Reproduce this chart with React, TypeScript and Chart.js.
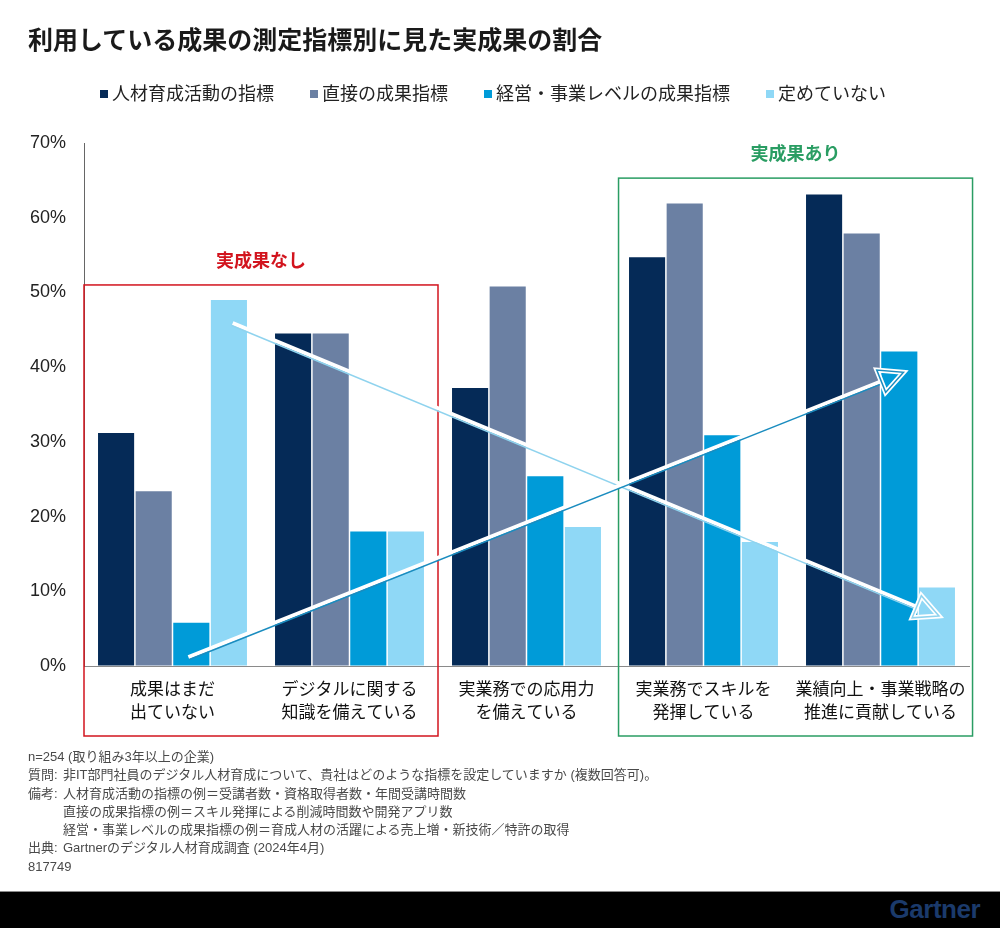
import React, { useEffect, useRef } from "react";
import { Chart, registerables } from "chart.js";

Chart.register(...registerables);

const FONT = "'Liberation Sans', 'Noto Sans CJK JP', sans-serif";

// ---- Data ----
const chartTitle = "利用している成果の測定指標別に見た実成果の割合";

const categories: string[][] = [
  ["成果はまだ", "出ていない"],
  ["デジタルに関する", "知識を備えている"],
  ["実業務での応用力", "を備えている"],
  ["実業務でスキルを", "発揮している"],
  ["業績向上・事業戦略の", "推進に貢献している"],
];

const seriesNames = [
  "人材育成活動の指標",
  "直接の成果指標",
  "経営・事業レベルの成果指標",
  "定めていない",
];
const seriesColors = ["#052a57", "#6b80a3", "#009bd8", "#8fd8f6"];

const talentActivity = [31.2, 44.5, 37.2, 54.7, 63.1];
const directOutcome = [23.4, 44.5, 50.8, 61.9, 57.9];
const businessLevel = [5.8, 18.0, 25.4, 30.9, 42.1];
const notDefined = [49.0, 18.0, 18.6, 16.6, 10.5];

const yMax = 70;
const yStep = 10;

// Highlight regions (category units and percent)
const regionLabels = ["実成果なし", "実成果あり"];
const regionColors = ["#d2141e", "#2a9d63"];
const regionFrom = [-0.5, 2.52];
const regionTo = [1.5, 4.52];
const regionTop = [51.0, 65.3];

// Trend arrows (category units, percent)
const arrowColors = ["#8fd3ee", "#1a8cbf"];
const arrowStart = [
  [0.34, 45.9],
  [0.09, 1.2],
];
const arrowEnd = [
  [4.33, 6.7],
  [4.13, 39.3],
];

const notePrefixes = ["", "質問:", "備考:", "", "", "出典:", ""];
const notes = [
  "n=254 (取り組み3年以上の企業)",
  "非IT部門社員のデジタル人材育成について、貴社はどのような指標を設定していますか (複数回答可)。",
  "人材育成活動の指標の例＝受講者数・資格取得者数・年間受講時間数",
  "直接の成果指標の例＝スキル発揮による削減時間数や開発アプリ数",
  "経営・事業レベルの成果指標の例＝育成人材の活躍による売上増・新技術／特許の取得",
  "Gartnerのデジタル人材育成調査 (2024年4月)",
  "817749",
];
const noteIndented = [false, false, false, true, true, false, false];

function drawArrow(
  ctx: CanvasRenderingContext2D,
  x1: number,
  y1: number,
  x2: number,
  y2: number,
  color: string
) {
  const dx = x2 - x1;
  const dy = y2 - y1;
  const len = Math.hypot(dx, dy);
  const ux = dx / len;
  const uy = dy / len;
  let nx = -uy;
  let ny = ux;
  if (ny < 0) {
    nx = -nx;
    ny = -ny;
  }
  const L = 24;
  const W = 12;
  const bx = x2 - ux * L;
  const by = y2 - uy * L;
  ctx.save();
  ctx.lineCap = "butt";
  ctx.strokeStyle = "#ffffff";
  ctx.lineWidth = 4;
  ctx.beginPath();
  ctx.moveTo(x1, y1);
  ctx.lineTo(bx, by);
  ctx.stroke();
  ctx.strokeStyle = color;
  ctx.lineWidth = 1.5;
  ctx.beginPath();
  ctx.moveTo(x1 + nx * 2.6, y1 + ny * 2.6);
  ctx.lineTo(bx + nx * 2.6, by + ny * 2.6);
  ctx.stroke();
  // hollow head
  ctx.lineJoin = "miter";
  ctx.beginPath();
  ctx.moveTo(x2, y2);
  ctx.lineTo(bx + nx * W, by + ny * W);
  ctx.lineTo(bx - nx * W, by - ny * W);
  ctx.closePath();
  ctx.strokeStyle = "#ffffff";
  ctx.lineWidth = 5;
  ctx.stroke();
  ctx.strokeStyle = color;
  ctx.lineWidth = 1.5;
  ctx.stroke();
  ctx.restore();
}

const overlayPlugin = {
  id: "overlay",
  afterDatasetsDraw(chart: any) {
    const { ctx, chartArea } = chart;
    const x = chart.scales.x;
    const y = chart.scales.y;
    ctx.save();
    for (let i = 0; i < regionLabels.length; i++) {
      const l = x.getPixelForValue(regionFrom[i]);
      const r = x.getPixelForValue(regionTo[i]);
      const t = y.getPixelForValue(regionTop[i]);
      const b = chartArea.bottom + 70;
      ctx.strokeStyle = regionColors[i];
      ctx.lineWidth = 1.5;
      ctx.strokeRect(l, t, r - l, b - t);
      ctx.fillStyle = regionColors[i];
      ctx.font = `bold 18px ${FONT}`;
      ctx.textAlign = "center";
      ctx.textBaseline = "middle";
      ctx.fillText(regionLabels[i], (l + r) / 2, t - 23);
    }
    for (let i = 0; i < arrowColors.length; i++) {
      const x1 = x.getPixelForValue(arrowStart[i][0]);
      const y1 = y.getPixelForValue(arrowStart[i][1]);
      const x2 = x.getPixelForValue(arrowEnd[i][0]);
      const y2 = y.getPixelForValue(arrowEnd[i][1]);
      drawArrow(ctx, x1, y1, x2, y2, arrowColors[i]);
    }
    ctx.restore();
  },
};

export default function App() {
  const canvasRef = useRef<HTMLCanvasElement | null>(null);

  useEffect(() => {
    if (!canvasRef.current) return;
    const seriesValues = [talentActivity, directOutcome, businessLevel, notDefined];
    const chart = new Chart(canvasRef.current, {
      type: "bar",
      data: {
        labels: categories,
        datasets: seriesNames.map((name, i) => ({
          label: name,
          data: seriesValues[i],
          backgroundColor: seriesColors[i],
          borderWidth: 0,
          categoryPercentage: 0.85,
          barPercentage: 0.96,
        })),
      },
      options: {
        responsive: false,
        animation: false,
        layout: { padding: { top: 143, left: 0, right: 31, bottom: 182 } },
        plugins: {
          legend: { display: false },
          tooltip: { enabled: false },
          title: { display: false },
        },
        scales: {
          x: {
            grid: { display: true, drawOnChartArea: false, drawTicks: false, color: "transparent" },
            border: { display: true, color: "#8a8a8a", width: 1 },
            ticks: {
              padding: 13,
              color: "#111",
              maxRotation: 0,
              autoSkip: false,
              font: { family: FONT, size: 17, lineHeight: 1.35 },
            },
            afterFit: (s: any) => {
              s.height = 80;
            },
          },
          y: {
            min: 0,
            max: yMax,
            grid: { display: true, drawOnChartArea: false, drawTicks: false, color: "transparent" },
            border: { display: true, color: "#666", width: 1 },
            ticks: {
              stepSize: yStep,
              padding: 18,
              color: "#222",
              font: { family: FONT, size: 18 },
              callback: (v: any) => `${v}%`,
            },
            afterFit: (s: any) => {
              s.width = 84;
            },
          },
        },
      },
      plugins: [overlayPlugin],
    });
    return () => chart.destroy();
  }, []);

  return (
    <div
      style={{
        position: "absolute",
        left: 0,
        top: 0,
        width: 1000,
        height: 928,
        background: "#fff",
        overflow: "hidden",
        fontFamily: FONT,
      }}
    >
      <canvas
        ref={canvasRef}
        width={1000}
        height={928}
        style={{ position: "absolute", left: 0, top: 0, width: 1000, height: 928 }}
      />
      <div
        style={{
          position: "absolute",
          left: 28,
          top: 24,
          fontSize: 25,
          fontWeight: 700,
          lineHeight: "32px",
          color: "#1a1a1a",
          whiteSpace: "nowrap",
        }}
      >
        {chartTitle}
      </div>
      <div
        style={{
          position: "absolute",
          left: -7,
          top: 82,
          width: 1000,
          height: 24,
          display: "flex",
          justifyContent: "center",
          alignItems: "center",
          gap: 36,
        }}
      >
        {seriesNames.map((name, i) => (
          <div key={name} style={{ display: "flex", alignItems: "center" }}>
            <span
              style={{
                display: "inline-block",
                width: 8,
                height: 8,
                background: seriesColors[i],
                marginRight: 4,
              }}
            />
            <span style={{ fontSize: 18, color: "#222", lineHeight: "24px", whiteSpace: "nowrap" }}>
              {name}
            </span>
          </div>
        ))}
      </div>
      <div
        style={{
          position: "absolute",
          left: 28,
          top: 748,
          fontSize: 13,
          lineHeight: "18.3px",
          color: "#4a4a4a",
          whiteSpace: "nowrap",
        }}
      >
        {notes.map((n, i) => (
          <div key={i} style={{ paddingLeft: noteIndented[i] ? 35 : 0 }}>
            {notePrefixes[i] ? (
              <span style={{ display: "inline-block", width: 35 }}>{notePrefixes[i]}</span>
            ) : null}
            {n}
          </div>
        ))}
      </div>
      <div
        style={{
          position: "absolute",
          left: 0,
          top: 891,
          width: 1000,
          height: 37,
          background: "#000",
          borderTop: "1px solid #8a8a8a",
          boxSizing: "border-box",
        }}
      >
        <div
          style={{
            position: "absolute",
            right: 20,
            top: 0,
            lineHeight: "35px",
            fontSize: 26,
            fontWeight: 700,
            color: "#1b3a6b",
            fontFamily: "'Liberation Sans', Arial, sans-serif",
            letterSpacing: -0.5,
          }}
        >
          Gartner
        </div>
      </div>
    </div>
  );
}
